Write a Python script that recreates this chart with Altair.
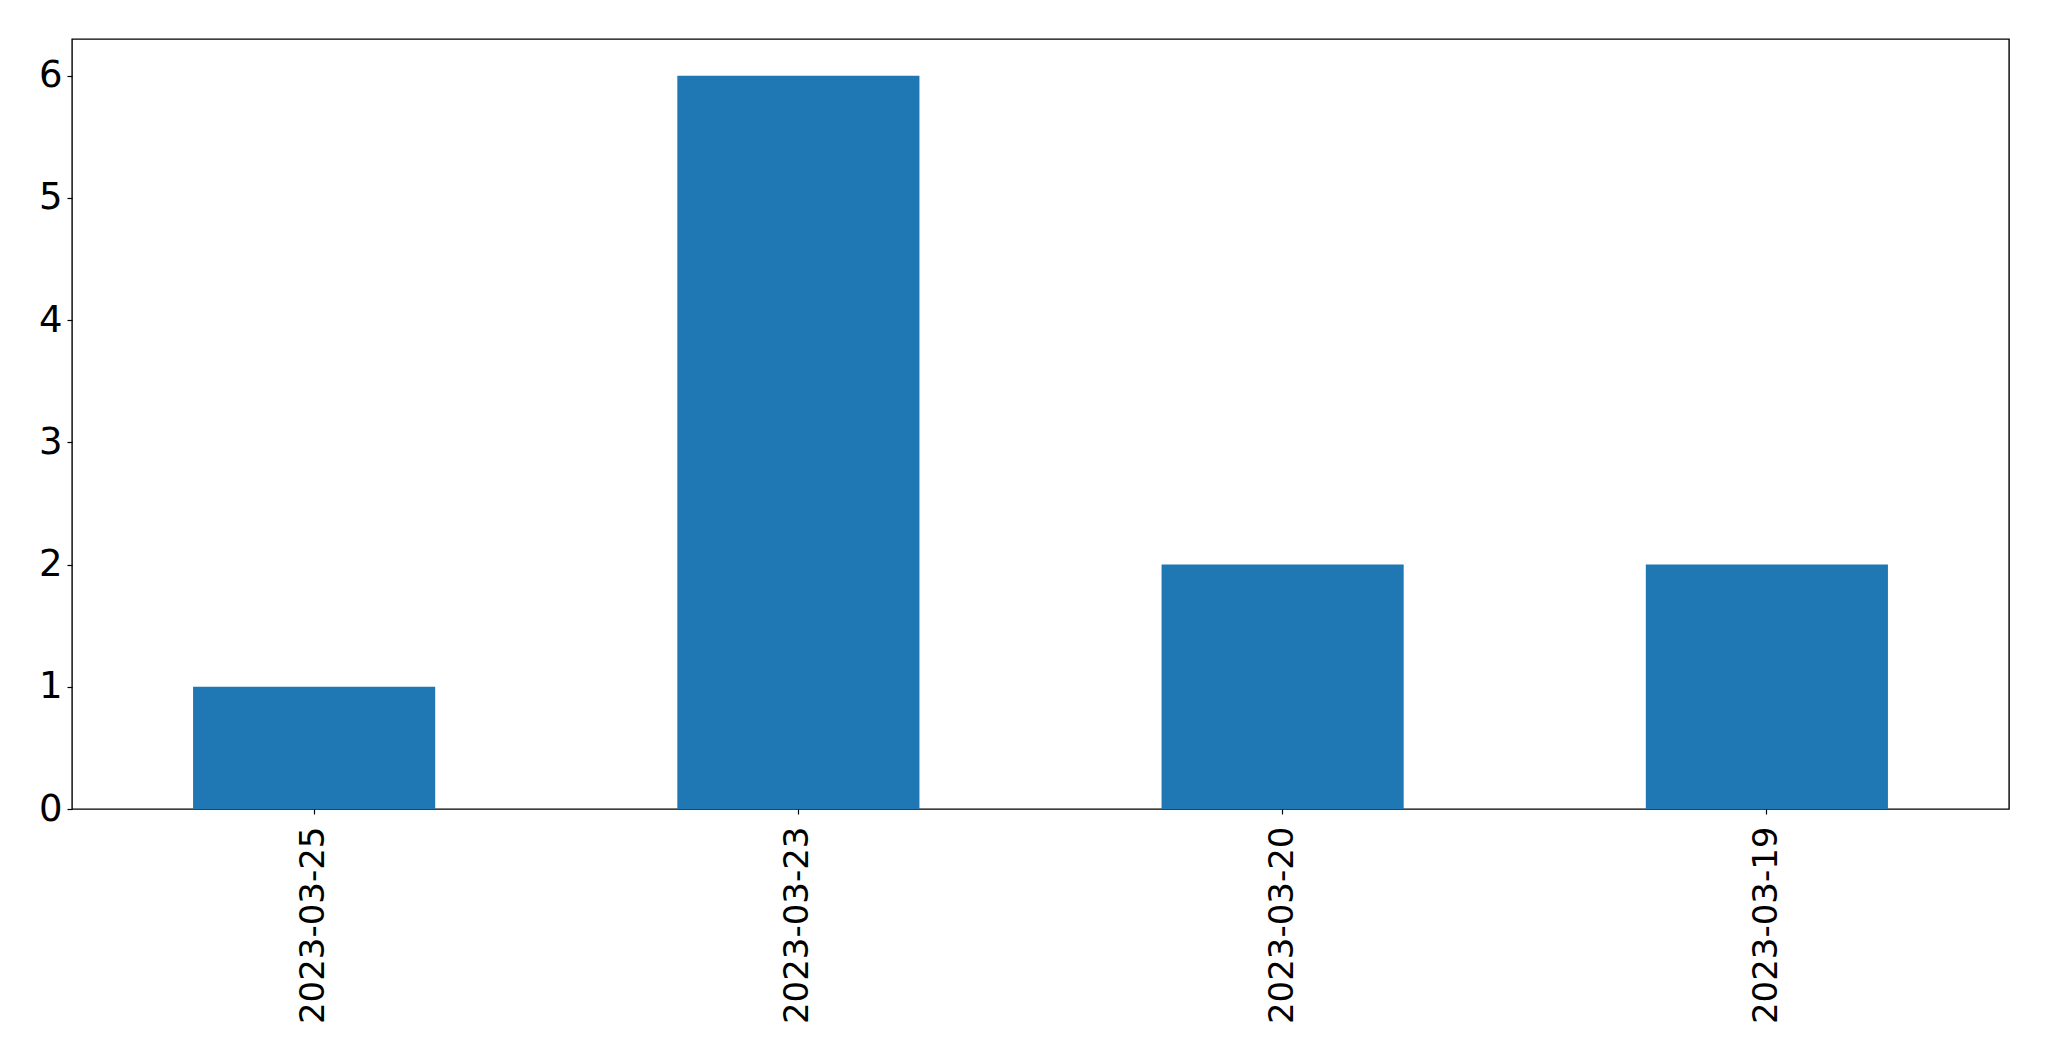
import altair as alt
import pandas as pd

dates = ["2023-03-25", "2023-03-23", "2023-03-20", "2023-03-19"]
counts = [1, 6, 2, 2]

df = pd.DataFrame({"date": dates, "count": counts})

chart = (
    alt.Chart(df)
    .mark_bar(color="#1f77b4")
    .encode(
        x=alt.X(
            "date:N",
            sort=dates,
            title=None,
            scale=alt.Scale(paddingInner=0.5, paddingOuter=0.25),
            axis=alt.Axis(
                labelAngle=270,
                labelAlign="right",
                labelBaseline="middle",
                labelFontSize=34,
                labelFont="DejaVu Sans",
                labelColor="black",
                labelPadding=12,
                labelLimit=0,
                tickColor="black",
                tickSize=5,
                tickWidth=1.2,
                domain=False,
                grid=False,
            ),
        ),
        y=alt.Y(
            "count:Q",
            title=None,
            scale=alt.Scale(domain=[0, 6.3], nice=False, zero=True),
            axis=alt.Axis(
                values=[0, 1, 2, 3, 4, 5, 6],
                format="d",
                labelFontSize=37,
                labelFont="DejaVu Sans",
                labelColor="black",
                labelPadding=5,
                labelLimit=0,
                tickColor="black",
                tickSize=5,
                tickWidth=1.2,
                domain=False,
                grid=False,
            ),
        ),
    )
    .properties(
        width=1937,
        height=770,
        autosize=alt.AutoSizeParams(type="none"),
        padding={"left": 64, "top": 31, "right": 30, "bottom": 240},
    )
    .configure(
        background="white",
        view=alt.ViewConfig(stroke="black", strokeWidth=1.4),
    )
)

chart.save("out.html", embed_options={"renderer": "svg", "actions": False})
